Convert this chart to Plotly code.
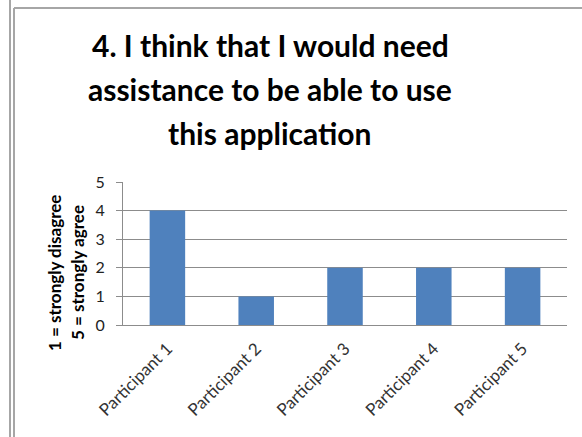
import plotly.graph_objects as go

categories = ["Participant 1", "Participant 2", "Participant 3", "Participant 4", "Participant 5"]
values = [4, 1, 2, 2, 2]
title_lines = ["4. I think that I would need", "assistance to be able to use", "this application"]
ytitle_lines = ["1 = strongly disagree", "5 = strongly agree"]

W, H = 582, 437
L, R, T, B = 123, 15, 182, 112
PW, PH = W - L - R, H - T - B

def px(x):
    return (x - L) / PW

def py(y):
    return (H - B - y) / PH

fig = go.Figure(go.Bar(x=categories, y=values, marker=dict(color="#4F81BD", line=dict(width=0)), width=0.4))

FONT = "Lato"
for txt, yc in zip(title_lines, [45, 89, 133]):
    fig.add_annotation(text="<b>%s</b>" % txt, x=px(270), y=py(yc), xref="paper", yref="paper",
                       showarrow=False, xanchor="center", yanchor="middle",
                       font=dict(family=FONT, size=30, color="#000000"))
for txt, xc in zip(ytitle_lines, [54, 77]):
    fig.add_annotation(text="<b>%s</b>" % txt, x=px(xc), y=py(273), xref="paper", yref="paper",
                       showarrow=False, xanchor="center", yanchor="middle", textangle=-90,
                       font=dict(family=FONT, size=17, color="#000000"))

frame = "#a6a6a6"
fig.add_shape(type="line", xref="paper", yref="paper", x0=px(10), x1=px(10), y0=py(0), y1=py(437),
              line=dict(color=frame, width=2))
fig.add_shape(type="line", xref="paper", yref="paper", x0=px(14), x1=px(14), y0=py(8), y1=py(437),
              line=dict(color=frame, width=2))
fig.add_shape(type="line", xref="paper", yref="paper", x0=px(14), x1=px(582), y0=py(8), y1=py(8),
              line=dict(color=frame, width=2))

fig.update_layout(
    width=W, height=H, margin=dict(l=L, r=R, t=T, b=B),
    paper_bgcolor="white", plot_bgcolor="white", showlegend=False,
    font=dict(family=FONT, size=13, color="#222222"),
)
fig.update_yaxes(range=[0, 5], dtick=1, showgrid=True, gridcolor="#8c8c8c", gridwidth=1,
                 showline=True, linecolor="#8c8c8c", linewidth=1, ticks="outside", ticklen=6,
                 tickcolor="#8c8c8c", ticklabelstandoff=8, zeroline=False,
                 tickfont=dict(family=FONT, size=16, color="#222222"))
fig.update_xaxes(showline=True, linecolor="#8c8c8c", linewidth=1, ticks="", tickangle=-45,
                 ticklabelstandoff=6, tickfont=dict(family=FONT, size=17, color="#333333"))

fig.write_html("out.html")
